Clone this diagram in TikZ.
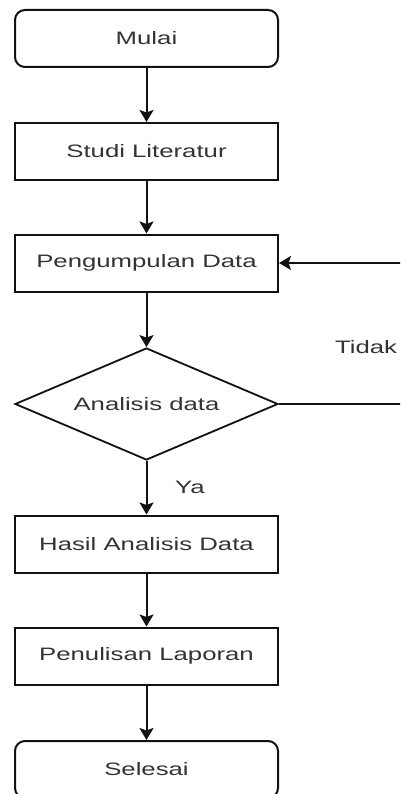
\documentclass[tikz,border=0pt]{standalone}
\usepackage{fontspec}
\setmainfont{Liberation Sans}[FakeStretch=1.43]
\usetikzlibrary{shapes.geometric,arrows.meta}
\definecolor{txt}{HTML}{333333}
\definecolor{ln}{HTML}{111111}
\begin{document}
\begin{tikzpicture}[x=1pt,y=-1pt,
  every node/.style={font=\fontsize{18}{22}\selectfont, text=txt},
  proc/.style={draw=ln, line width=2pt, minimum width=263pt, minimum height=57pt, inner sep=0pt},
  term/.style={proc, rounded corners=10pt},
  decide/.style={draw=ln, line width=1.8pt, diamond, aspect=2.35, minimum width=263pt, minimum height=112pt, inner sep=0pt},
  flow/.style={draw=ln, line width=2pt, -{Stealth[length=12pt,width=14pt,inset=2.5pt]}}]
\clip (0,0) rectangle (400,794);
\fill[white] (0,0) rectangle (400,794);
\node[term] (mulai) at (146.5,38.5) {Mulai};
\node[proc] (studi) at (146.5,151.5) {Studi Literatur};
\node[proc] (kumpul) at (146.5,263) {Pengumpulan Data};
\node[decide] (analisis) at (146.5,404) {Analisis data};
\node[proc] (hasil) at (146.5,544) {Hasil Analisis Data};
\node[proc] (tulis) at (146.5,656) {Penulisan Laporan};
\node[term] (selesai) at (146.5,769.5) {Selesai};
\node (tidak) at (366,347) {Tidak};
\node (ya) at (190,487) {Ya};
\coordinate (far) at (430,404);
\draw[flow] (mulai) -- (studi);
\draw[flow] (studi) -- (kumpul);
\draw[flow] (kumpul) -- (analisis);
\draw[flow] (analisis) -- (hasil);
\draw[flow] (hasil) -- (tulis);
\draw[flow] (tulis) -- (selesai);
\draw[flow] (analisis.east) -- (far) |- (kumpul.east);
\end{tikzpicture}
\end{document}
